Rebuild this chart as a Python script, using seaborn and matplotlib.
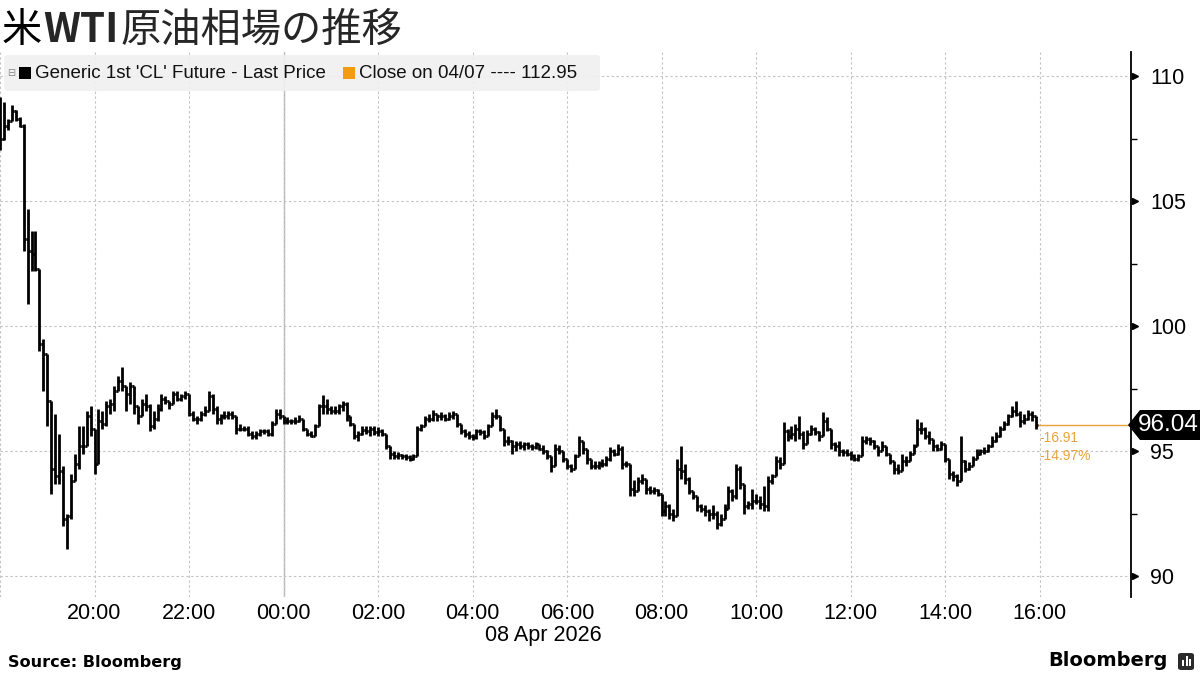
import numpy as np
import pandas as pd
import matplotlib
matplotlib.use("Agg")
import matplotlib.pyplot as plt
import matplotlib.dates as mdates
import matplotlib.transforms as mtrans
from matplotlib.patches import FancyBboxPatch, Polygon, Rectangle
import seaborn as sns

# ---------------- data (5-minute OHLC bars) ----------------
start_time = "2026-04-07 18:00"
bar_freq = "5min"
first_open = 109.0

closes = [
    107.5, 108.0, 108.2, 108.6, 108.3, 108.0, 103.5, 103.0, 102.9, 102.3,
    99.3, 98.9, 97.0, 94.3, 94.0, 94.2, 92.3, 92.4, 93.8, 94.5,
    95.2, 95.2, 96.4, 95.9, 94.5, 96.2, 96.1, 96.8, 96.9, 97.4,
    97.8, 97.6, 97.3, 97.6, 96.8, 96.4, 96.9, 96.8, 96.0, 96.3,
    96.7, 97.1, 97.0, 96.9, 97.3, 97.1, 97.2, 97.3, 96.5, 96.3,
    96.3, 96.5, 96.6, 97.2, 96.7, 96.3, 96.4, 96.4, 96.5, 96.4,
    95.9, 95.9, 95.9, 95.7, 95.6, 95.7, 95.8, 95.8, 95.7, 96.1,
    96.5, 96.4, 96.2, 96.2, 96.2, 96.2, 96.3, 95.9, 95.7, 95.6,
    96.0, 96.8, 96.8, 96.7, 96.6, 96.6, 96.8, 96.9, 96.4, 96.1,
    95.6, 95.7, 95.85, 95.8, 95.9, 95.75, 95.8, 95.7, 95.2, 94.9,
    94.8, 94.85, 94.8, 94.75, 94.7, 94.8, 95.9, 96.0, 96.3, 96.3,
    96.5, 96.4, 96.4, 96.3, 96.4, 96.5, 96.1, 95.8, 95.7, 95.6,
    95.55, 95.8, 95.75, 95.6, 96.0, 96.4, 96.4, 95.9, 95.4, 95.4,
    95.2, 95.3, 95.2, 95.3, 95.2, 95.15, 95.3, 95.1, 95.0, 94.8,
    94.4, 95.1, 95.0, 94.7, 94.4, 94.3, 94.8, 95.4, 95.1, 94.7,
    94.4, 94.4, 94.5, 94.5, 94.7, 95.0, 94.9, 95.1, 94.5, 94.5,
    93.5, 93.4, 93.8, 93.9, 93.5, 93.4, 93.45, 93.3, 92.6, 92.8,
    92.5, 92.4, 94.3, 94.2, 93.9, 93.4, 93.2, 92.8, 92.7, 92.6,
    92.5, 92.5, 92.1, 92.3, 92.7, 93.4, 93.2, 94.3, 93.7, 92.8,
    92.9, 93.0, 93.0, 92.9, 92.8, 93.8, 94.0, 94.6, 94.5, 95.8,
    95.6, 95.7, 95.9, 95.7, 95.3, 95.7, 95.9, 95.75, 95.6, 96.2,
    95.9, 95.3, 95.2, 95.0, 94.95, 94.9, 94.8, 94.7, 94.8, 95.4,
    95.5, 95.4, 95.2, 95.0, 95.2, 94.9, 94.6, 94.3, 94.2, 94.6,
    94.6, 94.9, 95.2, 95.9, 95.9, 95.6, 95.5, 95.2, 95.1, 95.3,
    94.7, 94.1, 94.0, 93.8, 94.6, 94.3, 94.4, 94.7, 94.9, 95.0,
    95.0, 95.2, 95.4, 95.6, 95.9, 96.1, 96.4, 96.6, 96.5, 96.2,
    96.3, 96.5, 96.4, 96.04,
]

highs = [
    109.15, 108.95, 108.3, 108.85, 108.65, 108.35, 108.1, 104.7, 103.8, 103.8,
    102.3, 99.5, 98.9, 96.9, 96.5, 95.7, 94.4, 92.5, 94.1, 94.9,
    96.0, 96.0, 96.6, 96.8, 95.9, 96.7, 96.6, 97.0, 97.1, 97.6,
    98.0, 98.35, 97.6, 97.75, 97.6, 96.8, 97.1, 97.3, 96.9, 96.6,
    96.9, 97.3, 97.2, 97.0, 97.4, 97.4, 97.3, 97.4, 97.3, 96.6,
    96.4, 96.6, 96.8, 97.4, 97.3, 96.8, 96.5, 96.6, 96.6, 96.6,
    96.4, 96.1, 96.0, 96.0, 95.8, 95.8, 95.9, 95.9, 95.9, 96.2,
    96.7, 96.7, 96.4, 96.35, 96.3, 96.35, 96.45, 96.3, 95.9, 95.8,
    96.1, 96.9, 97.25, 97.1, 96.8, 96.8, 96.9, 97.0, 96.95, 96.4,
    96.1, 95.8, 96.0, 96.0, 96.0, 96.0, 95.95, 95.9, 95.6, 95.2,
    95.0, 94.95, 94.9, 94.9, 94.85, 94.9, 96.0, 96.1, 96.4, 96.5,
    96.65, 96.5, 96.55, 96.5, 96.55, 96.6, 96.5, 96.0, 95.9, 95.8,
    95.7, 95.9, 95.9, 95.85, 96.1, 96.55, 96.7, 96.4, 95.9, 95.6,
    95.45, 95.4, 95.4, 95.35, 95.35, 95.3, 95.35, 95.3, 95.25, 95.05,
    94.8, 95.3, 95.25, 95.0, 94.7, 94.5, 94.9, 95.6, 95.4, 95.0,
    94.7, 94.6, 94.6, 94.7, 94.8, 95.16, 95.1, 95.3, 95.2, 94.6,
    94.5, 93.85, 93.95, 94.1, 93.9, 93.6, 93.55, 93.5, 93.3, 93.0,
    92.9, 92.7, 94.7, 95.2, 94.5, 93.95, 93.4, 93.2, 92.9, 92.85,
    92.7, 92.85, 92.6, 92.5, 92.9, 93.6, 93.5, 94.5, 94.4, 93.7,
    93.0, 93.5, 93.3, 93.2, 93.6, 94.0, 94.1, 94.8, 94.75, 96.15,
    95.9, 96.0, 96.1, 96.4, 95.8, 95.85, 96.05, 95.95, 95.8, 96.55,
    96.35, 95.9, 95.35, 95.4, 95.1, 95.1, 95.0, 94.9, 94.9, 95.6,
    95.6, 95.55, 95.45, 95.2, 95.4, 95.2, 94.9, 94.6, 94.5, 94.9,
    94.8, 95.0, 95.3, 96.3, 96.15, 95.95, 95.8, 95.5, 95.3, 95.4,
    95.3, 94.7, 94.2, 94.1, 95.6, 94.65, 94.55, 94.8, 95.1, 95.1,
    95.15, 95.3, 95.6, 95.75, 96.0, 96.2, 96.5, 96.8, 97.0, 96.6,
    96.5, 96.65, 96.6, 96.4,
]

lows = [
    107.05, 107.45, 107.85, 108.3, 108.2, 107.95, 103.0, 100.9, 102.2, 102.2,
    99.0, 97.4, 96.0, 93.3, 93.7, 93.7, 92.0, 91.1, 92.3, 93.8,
    94.3, 94.9, 95.6, 95.6, 94.1, 94.5, 95.9, 96.0, 96.5, 96.6,
    97.4, 97.4, 96.6, 96.9, 96.5, 96.1, 96.4, 96.6, 95.8, 95.9,
    96.2, 96.6, 96.9, 96.7, 96.9, 97.0, 97.0, 97.1, 96.4, 96.2,
    96.1, 96.2, 96.4, 96.6, 96.5, 96.1, 96.1, 96.3, 96.3, 96.3,
    95.7, 95.8, 95.8, 95.6, 95.5, 95.5, 95.6, 95.7, 95.6, 95.6,
    96.3, 96.3, 96.1, 96.1, 96.1, 96.1, 96.15, 95.8, 95.6, 95.55,
    95.6, 96.0, 96.5, 96.5, 96.5, 96.5, 96.5, 96.6, 96.2, 96.0,
    95.5, 95.4, 95.65, 95.7, 95.6, 95.65, 95.6, 95.6, 95.1, 94.7,
    94.7, 94.7, 94.7, 94.65, 94.6, 94.65, 94.8, 95.8, 96.0, 96.15,
    96.2, 96.2, 96.25, 96.2, 96.25, 96.3, 95.95, 95.7, 95.55, 95.5,
    95.45, 95.5, 95.65, 95.5, 95.6, 96.0, 96.3, 95.8, 95.2, 95.25,
    94.9, 95.0, 95.1, 95.05, 95.1, 95.05, 95.1, 95.05, 94.9, 94.7,
    94.15, 94.4, 94.9, 94.55, 94.3, 94.15, 94.3, 94.8, 94.9, 94.5,
    94.3, 94.3, 94.3, 94.35, 94.4, 94.6, 94.8, 94.85, 94.3, 94.35,
    93.2, 93.2, 93.4, 93.7, 93.3, 93.3, 93.3, 93.2, 92.4, 92.4,
    92.3, 92.2, 92.4, 93.9, 93.7, 93.3, 93.1, 92.6, 92.55, 92.4,
    92.2, 92.3, 91.9, 92.0, 92.3, 92.7, 93.0, 93.1, 93.5, 92.5,
    92.7, 92.7, 92.9, 92.7, 92.6, 92.6, 93.7, 94.0, 94.3, 94.5,
    95.4, 95.5, 95.4, 95.5, 95.1, 95.3, 95.65, 95.65, 95.4, 95.6,
    95.8, 95.1, 95.0, 94.8, 94.8, 94.8, 94.65, 94.6, 94.6, 94.8,
    95.3, 95.25, 95.1, 94.8, 95.0, 94.8, 94.5, 94.1, 94.1, 94.2,
    94.4, 94.6, 94.9, 95.2, 95.7, 95.5, 95.3, 95.0, 95.0, 95.05,
    94.55, 93.9, 93.8, 93.6, 93.8, 94.15, 94.25, 94.4, 94.7, 94.85,
    94.9, 94.95, 95.15, 95.35, 95.55, 95.85, 96.05, 96.35, 96.4, 95.95,
    96.1, 96.25, 96.2, 95.9,
]

y_ticks = [90, 95, 100, 105, 110]
y_minor_ticks = [92.5, 97.5, 102.5, 107.5]
x_tick_times = pd.date_range("2026-04-07 18:00", "2026-04-08 16:00", freq="2h")
x_tick_labels = ["", "20:00", "22:00", "00:00", "02:00", "04:00", "06:00",
                 "08:00", "10:00", "12:00", "14:00", "16:00"]
date_label = "08 Apr 2026"
last_price = 96.04
net_change_label = "-16.91"
pct_change_label = "-14.97%"
series_label = "Generic 1st 'CL' Future - Last Price"
close_label = "Close on 04/07 ---- 112.95"
title_parts = ["米", "WTI", "原油相場の推移"]
source_label = "Source: Bloomberg"

# ---------------- style ----------------
sns.set_theme(style="white")
plt.rcParams["font.family"] = ["Liberation Sans", "DejaVu Sans"]

W, H = 1200, 675
fig = plt.figure(figsize=(12, 6.75), dpi=100)
fig.patch.set_facecolor("white")


def fx(px):
    return px / W


def fy(py):
    return 1 - py / H


ax_top, ax_bot, ax_right = 52, 597, 1131
ax = fig.add_axes([0.0, fy(ax_bot), fx(ax_right), (ax_bot - ax_top) / H])
ax.set_facecolor("white")

orange = "#E8A33D"
legend_orange = "#F39C12"
grid_col = "#c4c4c4"

times = pd.date_range(start_time, periods=len(closes), freq=bar_freq)
t = mdates.date2num(times)
dt = t[1] - t[0]
opens = np.array([first_open] + closes[:-1])
c = np.array(closes)
hi = np.maximum.reduce([np.array(highs), opens, c])
lo = np.minimum.reduce([np.array(lows), opens, c])

x_left = mdates.date2num(pd.Timestamp(start_time))
x_right = x_left + (ax_right / 47.25) / 24.0
ax.set_xlim(x_left, x_right)
ax.set_ylim(89.16, 110.96)

# grid
ax.set_xticks(mdates.date2num(x_tick_times))
ax.set_xticklabels(x_tick_labels, fontsize=15.5, color="black")
ax.set_yticks(y_ticks)
ax.set_yticks(y_minor_ticks, minor=True)
ax.grid(True, which="major", color=grid_col, linestyle=(0, (2.2, 2.2)), linewidth=0.8)
ax.set_axisbelow(True)
midnight = mdates.date2num(pd.Timestamp("2026-04-08 00:00"))
ax.axvline(midnight, color="#b4b4b4", linewidth=1.0, zorder=0.5)

# OHLC bars
lw_bar = 2.0
ax.vlines(t, lo, hi, color="black", linewidth=lw_bar, zorder=3)
ax.hlines(opens, t - dt / 2, t, color="black", linewidth=lw_bar, zorder=3)
ax.hlines(c, t, t + dt / 2, color="black", linewidth=lw_bar, zorder=3)

# last price line (seaborn)
line_df = pd.DataFrame({"x": [t[-1], x_right], "y": [last_price, last_price]})
sns.lineplot(data=line_df, x="x", y="y", color=orange, linewidth=1.0, ax=ax, zorder=2)
ax.set_xlabel("")
ax.set_ylabel("")

# spines / ticks
for s in ["top", "left", "bottom"]:
    ax.spines[s].set_visible(False)
ax.spines["right"].set_visible(True)
ax.spines["right"].set_color("black")
ax.spines["right"].set_linewidth(1.3)
ax.yaxis.tick_right()
ax.tick_params(axis="y", which="major", length=0, labelsize=15.5, pad=14, colors="black")
ax.tick_params(axis="y", which="minor", length=4, width=1.0, color="black", direction="out", right=True)
ax.tick_params(axis="x", which="major", length=0, pad=4)
ax.set_yticklabels([str(v) for v in y_ticks])

tri_tr = ax.get_yaxis_transform() + mtrans.ScaledTranslation(4 / 100, 0, fig.dpi_scale_trans)
ax.plot([1] * len(y_ticks), y_ticks, linestyle="none", marker=">", markersize=5,
        color="black", transform=tri_tr, clip_on=False, zorder=5)

# date label under the time labels
fig.text(fx(543), fy(635), date_label, ha="center", va="center", fontsize=15.5, color="black")

# change labels
ax.annotate(net_change_label, xy=(t[-1], last_price), xytext=(3, -4), textcoords="offset points",
            fontsize=10, color=orange, ha="left", va="top")
ax.annotate(pct_change_label, xy=(t[-1], last_price), xytext=(3, -17), textcoords="offset points",
            fontsize=10, color=orange, ha="left", va="top")

# last price box
fig.canvas.draw()
y_disp = ax.transData.transform((t[-1], last_price))[1]
ypx = H - y_disp
poly = [(1128, ypx), (1140, ypx - 15), (1200, ypx - 15), (1200, ypx + 15), (1140, ypx + 15)]
fig.patches.append(Polygon([(fx(a), fy(b)) for a, b in poly], closed=True,
                           facecolor="black", edgecolor="none", transform=fig.transFigure))
fig.text(fx(1168), fy(ypx), f"{last_price:.2f}", color="white", fontsize=17.5,
         ha="center", va="center")

# legend box
fig.patches.append(FancyBboxPatch((fx(4), fy(91)), fx(596), (91 - 55) / H,
                                  boxstyle="round,pad=0,rounding_size=0.004",
                                  facecolor="#f0f0f0", edgecolor="none", alpha=0.92,
                                  transform=fig.transFigure, zorder=10))
fig.text(fx(7), fy(73), "⊟", fontsize=7, color="#888888", va="center", ha="left",
         family="DejaVu Sans", zorder=11)
fig.patches.append(Rectangle((fx(19), fy(79)), fx(12), 12 / H, facecolor="black",
                             edgecolor="none", transform=fig.transFigure, zorder=11))
fig.text(fx(35), fy(73), series_label, fontsize=13.5, color="#111111", va="center",
         ha="left", zorder=11)
fig.patches.append(Rectangle((fx(343), fy(79)), fx(12), 12 / H, facecolor=legend_orange,
                             edgecolor="none", transform=fig.transFigure, zorder=11))
fig.text(fx(359), fy(73), close_label, fontsize=13.5, color="#111111", va="center",
         ha="left", zorder=11)

# title
cjk = ["Noto Sans CJK JP", "DejaVu Sans"]
t1 = fig.text(fx(2), fy(42), title_parts[0], fontsize=29, family=cjk, color="black",
              va="baseline", ha="left")
t2 = plt.annotate(title_parts[1], xy=(1, 0), xycoords=t1, xytext=(1, 0),
                  textcoords="offset points", fontsize=29, family=cjk, weight="bold",
                  va="bottom", ha="left", annotation_clip=False)
t3 = plt.annotate(title_parts[2], xy=(1, 0), xycoords=t2, xytext=(1, 0),
                  textcoords="offset points", fontsize=29, family=cjk, va="bottom",
                  ha="left", annotation_clip=False)

# footer
fig.text(fx(8), fy(662), source_label, fontsize=11.6, weight="bold", family="DejaVu Sans",
         color="black", va="center", ha="left")
fig.text(fx(1168), fy(661), "Bloomberg", fontsize=14, weight="bold", family="DejaVu Sans",
         color="black", va="center", ha="right")
fig.patches.append(FancyBboxPatch((fx(1178), fy(670)), fx(16), 17 / H,
                                  boxstyle="round,pad=0,rounding_size=0.003",
                                  facecolor="#2b2b2b", edgecolor="none",
                                  transform=fig.transFigure))
for bx, bh in [(1182, 6), (1185.5, 10), (1189, 7)]:
    fig.patches.append(Rectangle((fx(bx), fy(666)), fx(2), bh / H, facecolor="white",
                                 edgecolor="none", transform=fig.transFigure))

fig.savefig("out.png", dpi=100, facecolor="white")
